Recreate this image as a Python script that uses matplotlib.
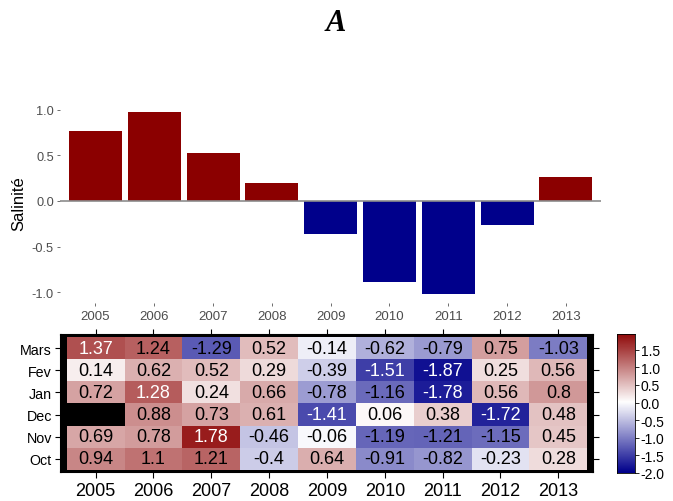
import numpy as np
import matplotlib
matplotlib.use("Agg")
from matplotlib import pyplot as plt
from matplotlib.colors import LinearSegmentedColormap, Normalize

plt.rcParams["font.family"] = ["Liberation Sans", "DejaVu Sans"]

years = ["2005", "2006", "2007", "2008", "2009", "2010", "2011", "2012", "2013"]
months = ["Mars", "Fev", "Jan", "Dec", "Nov", "Oct"]

# yearly salinity anomaly (top panel)
salinity = [0.77, 0.98, 0.53, 0.20, -0.36, -0.89, -1.02, -0.26, 0.26]

# monthly anomalies, rows top -> bottom as in `months`
mars = [1.37, 1.24, -1.29, 0.52, -0.14, -0.62, -0.79, 0.75, -1.03]
fev = [0.14, 0.62, 0.52, 0.29, -0.39, -1.51, -1.87, 0.25, 0.56]
jan = [0.72, 1.28, 0.24, 0.66, -0.78, -1.16, -1.78, 0.56, 0.8]
dec = [np.nan, 0.88, 0.73, 0.61, -1.41, 0.06, 0.38, -1.72, 0.48]
nov = [0.69, 0.78, 1.78, -0.46, -0.06, -1.19, -1.21, -1.15, 0.45]
oct_ = [0.94, 1.1, 1.21, -0.4, 0.64, -0.91, -0.82, -0.23, 0.28]

cbar_ticks = [1.5, 1.0, 0.5, 0.0, -0.5, -1.0, -1.5, -2.0]

DARKRED = "#8B0000"
DARKBLUE = "#00008B"
GREY = "#4D4D4D"

fig = plt.figure(figsize=(6.73, 5.02), dpi=100)
fig.text(0.499, 0.954, "A", ha="center", va="center", fontsize=22,
         family="Liberation Serif", fontweight="bold", fontstyle="italic")

# ---- bar chart
ax = fig.add_axes([0.0894, 0.3948, 0.8038, 0.3998])
x = np.arange(len(years))
colors = [DARKRED if v > 0 else DARKBLUE for v in salinity]
ax.bar(x, salinity, width=0.9, color=colors, zorder=2)
ax.axhline(0, color="#8c8c8c", lw=1.2, zorder=3)
ax.set_xlim(-0.6, 8.6)
ax.set_ylim(-1.115, 1.083)
ax.set_xticks(x)
ax.set_xticklabels(years)
ax.set_yticks([-1.0, -0.5, 0.0, 0.5, 1.0])
ax.set_yticklabels(["-1.0", "-0.5", "0.0", "0.5", "1.0"])
for s in ax.spines.values():
    s.set_visible(False)
ax.tick_params(axis="x", length=2.5, width=0.6, color="#555555", labelsize=9.5,
               labelcolor=GREY, pad=3)
ax.tick_params(axis="y", length=2.5, width=0.6, color="#555555", labelsize=9.2,
               labelcolor=GREY, pad=2)
ax.set_ylabel("Salinité", fontsize=12, labelpad=4)

# ---- heatmap
data = np.array([mars, fev, jan, dec, nov, oct_])
cmap = LinearSegmentedColormap.from_list("bwr_dark", [DARKBLUE, "white", DARKRED])
norm = Normalize(vmin=-2.0, vmax=2.0)

hx = fig.add_axes([0.0906, 0.0578, 0.7905, 0.2729])
hx.set_facecolor("black")
nrow = len(months)
hx.pcolormesh(np.arange(len(years) + 1) - 0.5, np.arange(nrow + 1) - 0.5,
              np.ma.masked_invalid(data[::-1]), cmap=cmap, norm=norm)
for i in range(nrow):
    for j in range(len(years)):
        v = data[i, j]
        if np.isnan(v):
            continue
        tc = "white" if (v > 1.25 or v < -1.35) else "black"
        hx.text(j, nrow - 1 - i, f"{round(v, 2):g}", ha="center", va="center",
                fontsize=13, color=tc)
hx.set_xlim(-0.6, 8.6)
hx.set_ylim(-0.6, nrow - 0.4)
hx.set_xticks(np.arange(len(years)))
hx.set_xticklabels(years)
hx.set_yticks(np.arange(nrow))
hx.set_yticklabels(months[::-1])
hx.tick_params(axis="x", top=True, bottom=True, length=4.5, width=0.8,
               labelsize=13, pad=3)
hx.tick_params(axis="y", left=True, right=True, length=4.5, width=0.8,
               labelsize=10.3, pad=2)
for s in hx.spines.values():
    s.set_linewidth(1.5)

# ---- colour key
cax = fig.add_axes([0.9168, 0.0558, 0.0267, 0.277])
grad = np.linspace(-2.0, 1.95, 256).reshape(-1, 1)
cax.imshow(grad, cmap=cmap, norm=norm, aspect="auto", origin="lower",
           extent=(0, 1, -2.0, 1.95))
cax.set_xlim(0, 1)
cax.set_ylim(-2.0, 1.95)
cax.set_xticks([])
cax.yaxis.tick_right()
cax.set_yticks(cbar_ticks)
cax.set_yticklabels([f"{t:.1f}" for t in cbar_ticks])
cax.tick_params(axis="y", length=3, width=0.6, labelsize=10, pad=1)
for s in cax.spines.values():
    s.set_linewidth(0.6)

fig.savefig("out.png", dpi=100)
